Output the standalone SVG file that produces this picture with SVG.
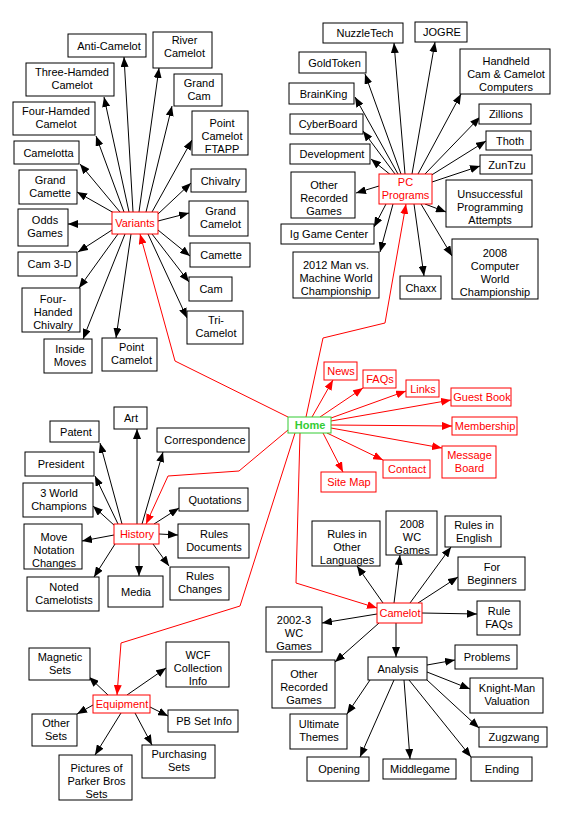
<svg xmlns="http://www.w3.org/2000/svg" width="567" height="816" viewBox="0 0 567 816">
<style>
rect{fill:#fff;stroke:#000;stroke-width:1}
text{font-family:"Liberation Sans",Arial,sans-serif;font-size:11px;text-anchor:middle;fill:#000}
.r rect{stroke:#f00}
.r text{fill:#f00}
.h rect{stroke:#3c3}
.h text{fill:#3c3;font-weight:bold}
.e{stroke:#000;stroke-width:1;fill:none;marker-end:url(#a)}
.re{stroke:#f00;stroke-width:1;fill:none;marker-end:url(#ra)}
</style>
<defs>
<marker id="a" viewBox="0 0 10 8" refX="10" refY="4" markerWidth="10" markerHeight="8" markerUnits="userSpaceOnUse" orient="auto"><path d="M0,0L10,4L0,8z" fill="#000"/></marker>
<marker id="ra" viewBox="0 0 10 8" refX="10" refY="4" markerWidth="10" markerHeight="8" markerUnits="userSpaceOnUse" orient="auto"><path d="M0,0L10,4L0,8z" fill="#f00"/></marker>
</defs>
<rect x="0" y="0" width="567" height="816" style="stroke:none;fill:#fff"/>
<g id="connectors">
<path class="e" d="M133,212L124,57"/>
<path class="e" d="M139,212L159,68"/>
<path class="e" d="M129,212L104,97"/>
<path class="e" d="M146,212L172,106"/>
<path class="e" d="M124,212L96,136"/>
<path class="e" d="M152,212L192,140"/>
<path class="e" d="M120,212L80,164"/>
<path class="e" d="M158,214L191,183"/>
<path class="e" d="M114,213L77,192"/>
<path class="e" d="M158,221L189,213"/>
<path class="e" d="M112,224L68,224"/>
<path class="e" d="M158,230L190,256"/>
<path class="e" d="M112,230L78,252"/>
<path class="e" d="M152,234L189,282"/>
<path class="e" d="M118,234L79,288"/>
<path class="e" d="M148,234L187,318"/>
<path class="e" d="M125,234L83,339"/>
<path class="e" d="M131,234L116,338"/>
<path class="e" d="M405,174L394,43"/>
<path class="e" d="M412,174L435,42"/>
<path class="e" d="M401,174L365,74"/>
<path class="e" d="M398,174L355,97"/>
<path class="e" d="M395,174L363,131"/>
<path class="e" d="M392,176L371,159"/>
<path class="e" d="M418,174L461,94"/>
<path class="e" d="M425,174L480,117"/>
<path class="e" d="M430,176L486,141"/>
<path class="e" d="M432,182L480,166"/>
<path class="e" d="M379,186L356,193"/>
<path class="e" d="M425,204L446,212"/>
<path class="e" d="M386,204L374,227"/>
<path class="e" d="M393,204L380,252"/>
<path class="e" d="M414,204L424,276"/>
<path class="e" d="M421,204L452,256"/>
<path class="e" d="M137,524L137,429"/>
<path class="e" d="M122,524L100,443"/>
<path class="e" d="M142,524L163,452"/>
<path class="e" d="M118,524L95,476"/>
<path class="e" d="M115,526L93,506"/>
<path class="e" d="M154,524L179,508"/>
<path class="e" d="M114,535L82,541"/>
<path class="e" d="M159,534L178,535"/>
<path class="e" d="M115,544L94,577"/>
<path class="e" d="M139,544L139,576"/>
<path class="e" d="M153,544L169,566"/>
<path class="e" d="M108,695L89,677"/>
<path class="e" d="M127,695L166,668"/>
<path class="e" d="M93,705L77,714"/>
<path class="e" d="M150,707L168,716"/>
<path class="e" d="M121,713L95,755"/>
<path class="e" d="M135,713L152,745"/>
<path class="e" d="M383,603L357,566"/>
<path class="e" d="M394,603L400,555"/>
<path class="e" d="M410,603L451,547"/>
<path class="e" d="M418,603L458,577"/>
<path class="e" d="M422,613L477,614"/>
<path class="e" d="M377,614L322,623"/>
<path class="e" d="M379,623L335,662"/>
<path class="e" d="M396,623L396,657"/>
<path class="e" d="M427,665L455,660"/>
<path class="e" d="M427,672L470,689"/>
<path class="e" d="M427,680L479,728"/>
<path class="e" d="M409,680L471,757"/>
<path class="e" d="M404,680L410,759"/>
<path class="e" d="M394,680L360,757"/>
<path class="e" d="M370,680L347,714"/>
<path class="re" d="M288,417L175,361L140,234"/>
<path class="re" d="M306,417L323,338L385,323L406,204"/>
<path class="re" d="M312,417L333,380"/>
<path class="re" d="M320,417L363,388"/>
<path class="re" d="M331,418L406,391"/>
<path class="re" d="M331,421L451,400"/>
<path class="re" d="M331,425L452,426"/>
<path class="re" d="M331,428L442,448"/>
<path class="re" d="M327,433L383,460"/>
<path class="re" d="M323,433L343,472"/>
<path class="re" d="M288,430L239,471L168,476L146,524"/>
<path class="re" d="M295,433L240,606L121,643L117,695"/>
<path class="re" d="M300,433L296,583L377,608"/>
</g>
<g id="anti-camelot"><rect x="68" y="34" width="78" height="23"/><text x="109" y="49.5">Anti-Camelot</text></g>
<g id="river-camelot"><rect x="153" y="32" width="59" height="36"/><text x="184.5" y="43.5">River<tspan x="184.5" dy="13">Camelot</tspan></text></g>
<g id="three-hamded-camelot"><rect x="26" y="63" width="88" height="33"/><text x="72" y="76">Three-Hamded<tspan x="72" dy="13">Camelot</tspan></text></g>
<g id="grand-cam"><rect x="174" y="74" width="48" height="32"/><text x="199" y="87">Grand<tspan x="199" dy="13">Cam</tspan></text></g>
<g id="four-hamded-camelot"><rect x="13" y="102" width="82" height="33"/><text x="56" y="115">Four-Hamded<tspan x="56" dy="13">Camelot</tspan></text></g>
<g id="point-camelot-ftapp"><rect x="192" y="111" width="56" height="44"/><text x="222" y="127">Point<tspan x="222" dy="13">Camelot</tspan><tspan x="222" dy="13">FTAPP</tspan></text></g>
<g id="camelotta"><rect x="14" y="141" width="65" height="23"/><text x="48.5" y="156.5">Camelotta</text></g>
<g id="chivalry"><rect x="191" y="169" width="55" height="23"/><text x="220.5" y="184.5">Chivalry</text></g>
<g id="grand-camette"><rect x="19" y="170" width="58" height="34"/><text x="50" y="184">Grand<tspan x="50" dy="13">Camette</tspan></text></g>
<g id="grand-camelot"><rect x="189" y="201" width="59" height="35"/><text x="220.5" y="215">Grand<tspan x="220.5" dy="13">Camelot</tspan></text></g>
<g id="odds-games"><rect x="18" y="209" width="50" height="37"/><text x="45" y="224">Odds<tspan x="45" dy="13">Games</tspan></text></g>
<g id="variants" class="r"><rect x="112" y="212" width="46" height="22"/><text x="135" y="227">Variants</text></g>
<g id="cam-3-d"><rect x="18" y="252" width="59" height="24"/><text x="49.5" y="268">Cam 3-D</text></g>
<g id="camette"><rect x="190" y="243" width="60" height="24"/><text x="221" y="259">Camette</text></g>
<g id="cam"><rect x="189" y="277" width="43" height="24"/><text x="211" y="293">Cam</text></g>
<g id="four-handed-chivalry"><rect x="22" y="288" width="58" height="44"/><text x="53" y="303">Four-<tspan x="53" dy="13">Handed</tspan><tspan x="53" dy="13">Chivalry</tspan></text></g>
<g id="tri-camelot"><rect x="187" y="311" width="56" height="33"/><text x="216" y="324">Tri-<tspan x="216" dy="13">Camelot</tspan></text></g>
<g id="inside-moves"><rect x="44" y="339" width="48" height="34"/><text x="70" y="352.5">Inside<tspan x="70" dy="13">Moves</tspan></text></g>
<g id="point-camelot"><rect x="102" y="338" width="55" height="33"/><text x="131.5" y="351">Point<tspan x="131.5" dy="13">Camelot</tspan></text></g>
<g id="nuzzletech"><rect x="323" y="23" width="80" height="20"/><text x="365" y="37">NuzzleTech</text></g>
<g id="jogre"><rect x="415" y="22" width="52" height="20"/><text x="442" y="36">JOGRE</text></g>
<g id="goldtoken"><rect x="299" y="52" width="67" height="21"/><text x="334.5" y="66.5">GoldToken</text></g>
<g id="handheld"><rect x="460" y="49" width="90" height="45"/><text x="506" y="65">Handheld<tspan x="506" dy="13">Cam &amp; Camelot</tspan><tspan x="506" dy="13">Computers</tspan></text></g>
<g id="brainking"><rect x="289" y="83" width="65" height="21"/><text x="323.5" y="97.5">BrainKing</text></g>
<g id="zillions"><rect x="479" y="104" width="52" height="20"/><text x="506" y="118">Zillions</text></g>
<g id="cyberboard"><rect x="290" y="114" width="73" height="20"/><text x="328" y="128">CyberBoard</text></g>
<g id="thoth"><rect x="486" y="131" width="45" height="19"/><text x="510" y="144.5">Thoth</text></g>
<g id="development"><rect x="290" y="144" width="80" height="20"/><text x="332" y="158">Development</text></g>
<g id="zuntzu"><rect x="480" y="155" width="52" height="19"/><text x="507" y="168.5">ZunTzu</text></g>
<g id="other-recorded-games-pc"><rect x="291" y="172" width="64" height="46"/><text x="324" y="189">Other<tspan x="324" dy="13">Recorded</tspan><tspan x="324" dy="13">Games</tspan></text></g>
<g id="pc-programs" class="r"><rect x="379" y="174" width="53" height="30"/><text x="405.5" y="186">PC<tspan x="405.5" dy="13">Programs</tspan></text></g>
<g id="unsuccessful"><rect x="446" y="180" width="86" height="47"/><text x="490" y="197.5">Unsuccessful<tspan x="490" dy="13">Programming</tspan><tspan x="490" dy="13">Attempts</tspan></text></g>
<g id="ig-game-center"><rect x="281" y="224" width="93" height="20"/><text x="329" y="238">Ig Game Center</text></g>
<g id="man-vs-machine"><rect x="293" y="252" width="86" height="46"/><text x="336" y="269">2012 Man vs.<tspan x="336" dy="13">Machine World</tspan><tspan x="336" dy="13">Championship</tspan></text></g>
<g id="chaxx"><rect x="400" y="276" width="41" height="23"/><text x="421" y="291.5">Chaxx</text></g>
<g id="computer-wc-2008"><rect x="452" y="239" width="86" height="60"/><text x="495" y="256.5">2008<tspan x="495" dy="13">Computer</tspan><tspan x="495" dy="13">World</tspan><tspan x="495" dy="13">Championship</tspan></text></g>
<g id="home" class="h"><rect x="288" y="417" width="43" height="16"/><text x="310" y="429">Home</text></g>
<g id="news" class="r"><rect x="324" y="362" width="33" height="18"/><text x="341" y="375">News</text></g>
<g id="faqs" class="r"><rect x="363" y="370" width="33" height="18"/><text x="380" y="383">FAQs</text></g>
<g id="links" class="r"><rect x="406" y="380" width="33" height="17"/><text x="423" y="392.5">Links</text></g>
<g id="guest-book" class="r"><rect x="451" y="388" width="60" height="18"/><text x="482" y="401">Guest Book</text></g>
<g id="membership" class="r"><rect x="452" y="417" width="65" height="18"/><text x="485" y="430">Membership</text></g>
<g id="message-board" class="r"><rect x="442" y="446" width="54" height="32"/><text x="469.5" y="459">Message<tspan x="469.5" dy="13">Board</tspan></text></g>
<g id="contact" class="r"><rect x="383" y="460" width="47" height="18"/><text x="407" y="473">Contact</text></g>
<g id="site-map" class="r"><rect x="321" y="472" width="55" height="20"/><text x="349" y="486">Site Map</text></g>
<g id="art"><rect x="114" y="407" width="33" height="22"/><text x="131" y="422">Art</text></g>
<g id="patent"><rect x="50" y="421" width="49" height="21"/><text x="76" y="435.5">Patent</text></g>
<g id="correspondence"><rect x="157" y="428" width="92" height="24"/><text x="205" y="444">Correspondence</text></g>
<g id="president"><rect x="25" y="452" width="69" height="24"/><text x="61" y="468">President</text></g>
<g id="world-champions"><rect x="23" y="483" width="70" height="34"/><text x="59" y="497">3 World<tspan x="59" dy="13">Champions</tspan></text></g>
<g id="quotations"><rect x="179" y="488" width="69" height="23"/><text x="215" y="503.5">Quotations</text></g>
<g id="history" class="r"><rect x="114" y="524" width="45" height="20"/><text x="137" y="538">History</text></g>
<g id="move-notation-changes"><rect x="24" y="524" width="58" height="45"/><text x="54" y="541">Move<tspan x="54" dy="13">Notation</tspan><tspan x="54" dy="13">Changes</tspan></text></g>
<g id="rules-documents"><rect x="178" y="524" width="71" height="34"/><text x="214" y="538">Rules<tspan x="214" dy="13">Documents</tspan></text></g>
<g id="rules-changes"><rect x="170" y="567" width="59" height="33"/><text x="200" y="580">Rules<tspan x="200" dy="13">Changes</tspan></text></g>
<g id="noted-camelotists"><rect x="27" y="577" width="72" height="34"/><text x="64" y="591">Noted<tspan x="64" dy="13">Camelotists</tspan></text></g>
<g id="media"><rect x="108" y="576" width="55" height="31"/><text x="136" y="595.5">Media</text></g>
<g id="magnetic-sets"><rect x="29" y="648" width="61" height="32"/><text x="60" y="661">Magnetic<tspan x="60" dy="13">Sets</tspan></text></g>
<g id="wcf-collection-info"><rect x="166" y="642" width="63" height="45"/><text x="198" y="659">WCF<tspan x="198" dy="13">Collection</tspan><tspan x="198" dy="13">Info</tspan></text></g>
<g id="equipment" class="r"><rect x="93" y="695" width="57" height="18"/><text x="122" y="708">Equipment</text></g>
<g id="pb-set-info"><rect x="168" y="710" width="70" height="22"/><text x="204" y="725">PB Set Info</text></g>
<g id="other-sets"><rect x="32" y="714" width="45" height="32"/><text x="56" y="727">Other<tspan x="56" dy="13">Sets</tspan></text></g>
<g id="purchasing-sets"><rect x="142" y="745" width="73" height="33"/><text x="179" y="758">Purchasing<tspan x="179" dy="13">Sets</tspan></text></g>
<g id="pictures-parker-bros"><rect x="59" y="755" width="73" height="45"/><text x="96.5" y="772">Pictures of<tspan x="96.5" dy="13">Parker Bros</tspan><tspan x="96.5" dy="13">Sets</tspan></text></g>
<g id="rules-other-languages"><rect x="312" y="521" width="68" height="45"/><text x="347" y="538">Rules in<tspan x="347" dy="13">Other</tspan><tspan x="347" dy="13">Languages</tspan></text></g>
<g id="wc-games-2008"><rect x="386" y="511" width="51" height="44"/><text x="412" y="527.5">2008<tspan x="412" dy="13">WC</tspan><tspan x="412" dy="13">Games</tspan></text></g>
<g id="rules-english"><rect x="445" y="516" width="56" height="31"/><text x="474" y="528.5">Rules in<tspan x="474" dy="13">English</tspan></text></g>
<g id="for-beginners"><rect x="458" y="557" width="67" height="33"/><text x="492" y="570.5">For<tspan x="492" dy="13">Beginners</tspan></text></g>
<g id="camelot" class="r"><rect x="377" y="603" width="45" height="20"/><text x="400" y="617">Camelot</text></g>
<g id="rule-faqs"><rect x="477" y="601" width="43" height="34"/><text x="499" y="615">Rule<tspan x="499" dy="13">FAQs</tspan></text></g>
<g id="wc-games-2002"><rect x="266" y="607" width="56" height="45"/><text x="294" y="624">2002-3<tspan x="294" dy="13">WC</tspan><tspan x="294" dy="13">Games</tspan></text></g>
<g id="analysis"><rect x="368" y="657" width="59" height="23"/><text x="398" y="672.5">Analysis</text></g>
<g id="problems"><rect x="455" y="645" width="62" height="24"/><text x="487" y="661">Problems</text></g>
<g id="other-recorded-games-cam"><rect x="272" y="660" width="63" height="48"/><text x="304" y="678">Other<tspan x="304" dy="13">Recorded</tspan><tspan x="304" dy="13">Games</tspan></text></g>
<g id="knight-man-valuation"><rect x="470" y="678" width="73" height="35"/><text x="507" y="692">Knight-Man<tspan x="507" dy="13">Valuation</tspan></text></g>
<g id="ultimate-themes"><rect x="290" y="714" width="57" height="35"/><text x="319" y="728">Ultimate<tspan x="319" dy="13">Themes</tspan></text></g>
<g id="zugzwang"><rect x="479" y="727" width="68" height="20"/><text x="514" y="741">Zugzwang</text></g>
<g id="opening"><rect x="307" y="757" width="62" height="24"/><text x="339" y="773">Opening</text></g>
<g id="middlegame"><rect x="383" y="759" width="73" height="20"/><text x="420" y="773">Middlegame</text></g>
<g id="ending"><rect x="471" y="757" width="61" height="24"/><text x="502" y="773">Ending</text></g>
</svg>
